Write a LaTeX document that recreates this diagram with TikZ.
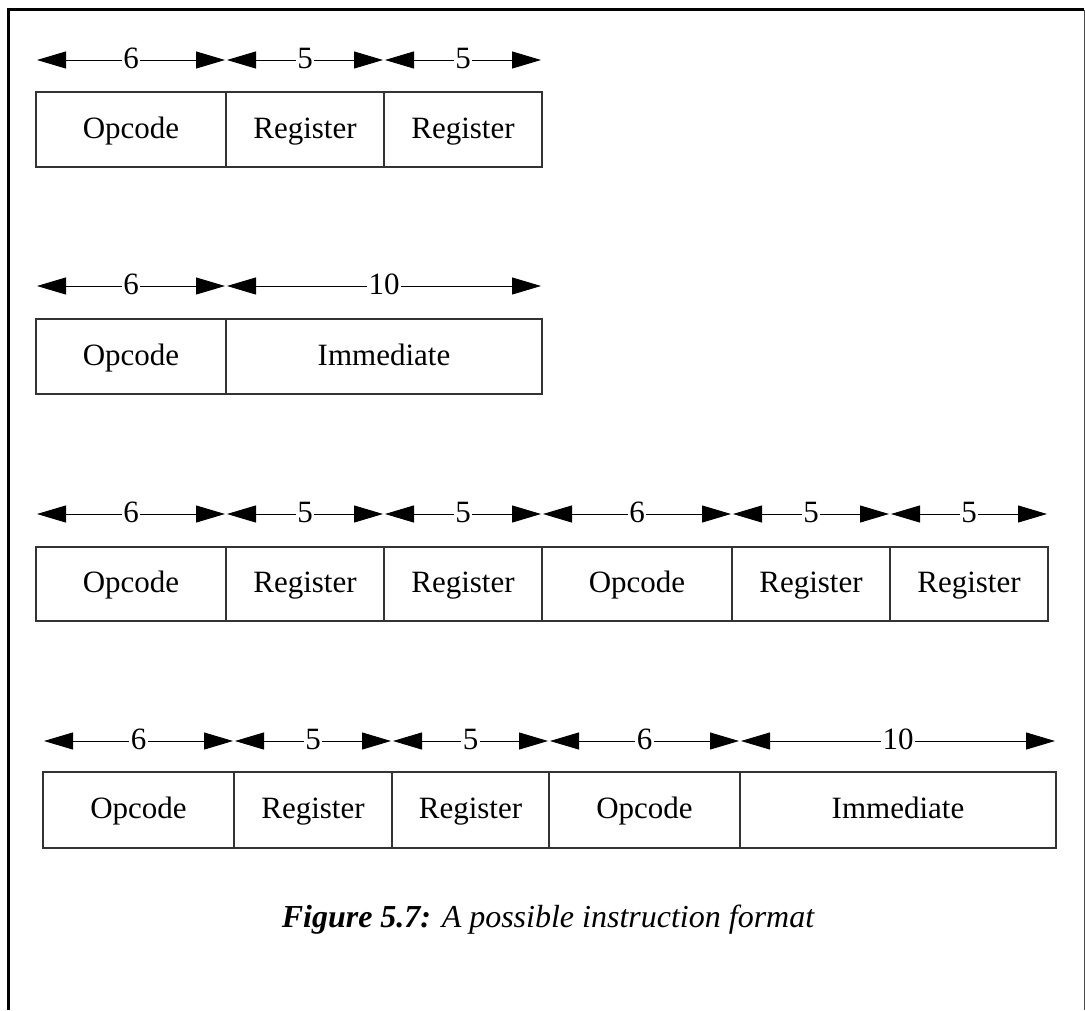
\documentclass[tikz,border=0pt]{standalone}
\usepackage{fontspec}
\setmainfont{Liberation Serif}
\usetikzlibrary{arrows.meta,calc}

\tikzset{
  fieldbox/.style={draw=black!80, line width=1.4pt, inner sep=0pt, outer sep=0pt,
    anchor=north west, text height=22pt, text depth=5pt,
    font=\fontsize{31}{37}\selectfont},
  dimline/.style={line width=1pt,
    {Triangle[length=29pt,width=17pt]}-{Triangle[length=29pt,width=17pt]}},
  bitlabel/.style={fill=white, inner sep=1.5pt, anchor=base,
    font=\fontsize{31}{37}\selectfont},
  frameline/.style={line width=3pt},
}

% #1 name, #2 left x, #3 right x, #4 top y, #5 bottom y, #6 field text, #7 bit count, #8 arrow y
\newcommand\instrfield[8]{%
  \node[fieldbox, minimum width={#3pt-#2pt}, minimum height={#5pt-#4pt}]
    (#1) at (#2,#4) {#6};
  \coordinate (#1-l) at (#2+1,#8);
  \coordinate (#1-r) at (#3-1,#8);
  \draw[dimline] (#1-l) -- (#1-r);
  \node[bitlabel] (#1-bits) at ($(#1-l)!0.5!(#1-r)+(0,8)$) {#7};
}

\begin{document}
\begin{tikzpicture}[x=1pt,y=-1pt]
\useasboundingbox[fill=white] (0,0) rectangle (1085,1010);

% outer frame (open at the bottom)
\draw[frameline] (8.3,1010) -- (8.3,9.7) -- (1084,9.7);
\draw[black!70, line width=1.5pt] (1084.3,9.7) -- (1084.3,1010);

% format 1: opcode + two registers
\instrfield{a1}{36}{226}{92}{167}{Opcode}{6}{60}
\instrfield{a2}{226}{384}{92}{167}{Register}{5}{60}
\instrfield{a3}{384}{542}{92}{167}{Register}{5}{60}

% format 2: opcode + immediate
\instrfield{b1}{36}{226}{319}{394}{Opcode}{6}{286}
\instrfield{b2}{226}{542}{319}{394}{Immediate}{10}{286}

% format 3: two register instructions
\instrfield{c1}{36}{226}{547}{621}{Opcode}{6}{514}
\instrfield{c2}{226}{384}{547}{621}{Register}{5}{514}
\instrfield{c3}{384}{542}{547}{621}{Register}{5}{514}
\instrfield{c4}{542}{732}{547}{621}{Opcode}{6}{514}
\instrfield{c5}{732}{890}{547}{621}{Register}{5}{514}
\instrfield{c6}{890}{1048}{547}{621}{Register}{5}{514}

% format 4: register instruction + immediate instruction
\instrfield{d1}{43}{234}{772}{848}{Opcode}{6}{741}
\instrfield{d2}{234}{392}{772}{848}{Register}{5}{741}
\instrfield{d3}{392}{549}{772}{848}{Register}{5}{741}
\instrfield{d4}{549}{740}{772}{848}{Opcode}{6}{741}
\instrfield{d5}{740}{1056}{772}{848}{Immediate}{10}{741}

% caption
\node[anchor=base, inner sep=0pt, font=\fontsize{32}{38}\selectfont] (caption) at (548,927)
  {{\bfseries\itshape Figure 5.7:} {\itshape A possible instruction format}};
\end{tikzpicture}
\end{document}
